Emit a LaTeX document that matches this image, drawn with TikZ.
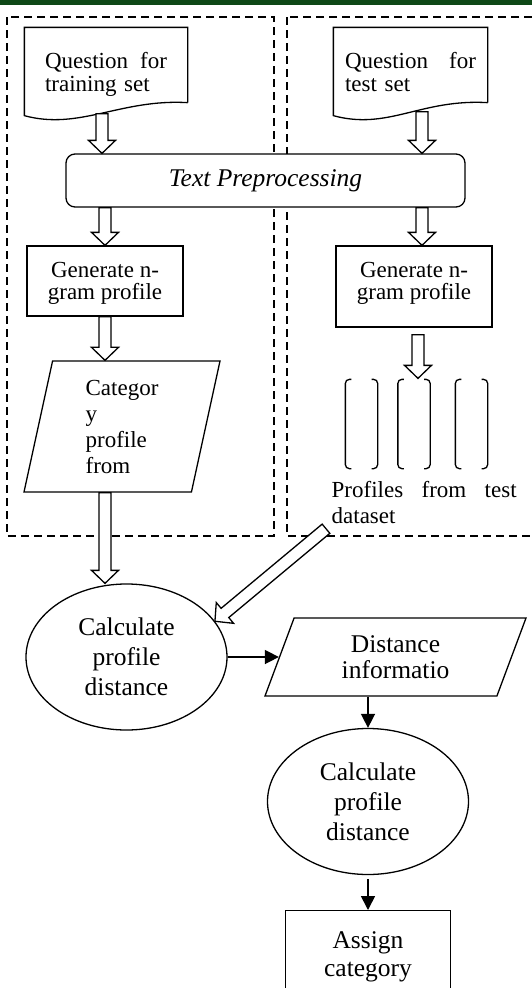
\documentclass[tikz,border=0pt]{standalone}
\usepackage{fontspec}
\setmainfont{Liberation Serif}
\usetikzlibrary{arrows.meta,calc,shapes.geometric}

\definecolor{bargreen}{RGB}{14,72,22}

\tikzset{
  small/.style={font=\fontsize{23}{23}\selectfont},
  big/.style={font=\fontsize{25.5}{30}\selectfont},
  doc/.style={small, align=left, inner ysep=0pt, text depth=10pt, minimum height=74pt},
  proc/.style={draw, align=center, inner sep=0pt, text depth=0pt},
  para/.style={draw, trapezium, trapezium stretches body, inner sep=0pt},
  calc/.style={draw, ellipse, big, align=center, inner sep=0pt, minimum width=201pt, minimum height=146pt},
  profbox/.style={inner sep=0pt, minimum width=31pt, minimum height=88pt},
  dashbox/.style={dash pattern=on 8pt off 5pt, line width=1.4pt},
  flow/.style={line width=1.6pt, -{Triangle[length=14pt,width=14pt]}},
  % wide outlined arrow between two points
  blockarrow/.style={to path={
    let \p1=(\tikztostart), \p2=(\tikztotarget), \n1={atan2(\y2-\y1,\x2-\x1)} in
    ($(\p1)+(\n1+90:6pt)$) -- ($(\p2)+(\n1:-13pt)+(\n1+90:6pt)$)
    -- ($(\p2)+(\n1:-13pt)+(\n1+90:13.5pt)$) -- (\p2)
    -- ($(\p2)+(\n1:-13pt)+(\n1-90:13.5pt)$)
    -- ($(\p2)+(\n1:-13pt)+(\n1-90:6pt)$)
    -- ($(\p1)+(\n1-90:6pt)$) -- cycle}},
}

\begin{document}
\begin{tikzpicture}[x=1pt, y=-1pt, line width=1.3pt]
\useasboundingbox (0,0) rectangle (532,988);
\fill[bargreen] (0,0) rectangle (532,5);

% the two dashed frames
\draw[dashbox] (7,17) rectangle (274,536);
\draw[dashbox] (287,17) rectangle (560,536);

% documents
\node[doc, text width=122pt, inner xsep=20pt] (qtrain) at (106,65) {Question\hfill for\\training set};
\node[doc, text width=131pt, inner xsep=11pt] (qtest) at (410.5,65) {Question\hfill for\\test set};
\foreach \d in {qtrain,qtest}
  \draw (\d.south east) -- (\d.north east) -- (\d.north west) -- ([yshift=-13pt]\d.south west)
    .. controls +(55,15) and +(-67,-4) .. (\d.south east);

\node[draw, fill=white, rounded corners=9pt, minimum width=399pt, minimum height=53pt, big] (tp) at (265.5,180.5) {\textit{Text Preprocessing}};

\node[proc, small, font=\fontsize{23}{22.5}\selectfont, minimum width=156pt, minimum height=70pt] (gen1) at (105,281) {Generate n-\\gram profile};
\node[proc, small, font=\fontsize{23}{22.5}\selectfont, minimum width=156pt, minimum height=81pt, text depth=11pt] (gen2) at (414,286.5) {Generate n-\\gram profile};

\node[para, trapezium left angle=73, trapezium right angle=107, minimum width=196pt, minimum height=131pt,
  align=left, font=\fontsize{23}{26}\selectfont] (catp) at (122,426.5) {Categor\\y\\profile\\from};

% test profiles
\node[profbox] (prof1) at (361.5,424) {};
\node[profbox] (prof2) at (414,424) {};
\node[profbox] (prof3) at (471.5,424) {};
\foreach \p in {prof1,prof2,prof3} {
  \draw[rounded corners=4pt] ([xshift=6pt]\p.north west) -- (\p.north west) -- (\p.south west) -- ([xshift=6pt]\p.south west);
  \draw[rounded corners=4pt] ([xshift=-6pt]\p.north east) -- (\p.north east) -- (\p.south east) -- ([xshift=-6pt]\p.south east);
}
\node[anchor=north west, inner sep=0pt, text width=185pt, align=left, font=\fontsize{23}{26}\selectfont] (profset) at (331,481) {Profiles\hfill from\hfill test\\dataset};

\node[calc] (calc1) at (126.5,657) {Calculate\\profile\\distance};
\node[para, trapezium left angle=56, trapezium right angle=124, minimum width=261pt, minimum height=78pt,
  align=center, font=\fontsize{25.5}{26}\selectfont] (dist) at (395.5,657) {Distance\\informatio};
\node[calc] (calc2) at (368,801.5) {Calculate\\profile\\distance};
\node[proc, font=\fontsize{25.5}{28}\selectfont, minimum width=165pt, minimum height=86pt, anchor=north] (assign) at (368,910) {Assign\\category};

% block arrows
\draw[fill=white] ($(qtrain.south)+(-4,11)$) to[blockarrow] ($(qtrain.south |- tp.north)+(-4,0)$);
\draw[fill=white] ($(qtest.south)+(11.5,9)$) to[blockarrow] ($(qtest.south |- tp.north)+(11.5,0)$);
\draw[fill=white] (gen1.north |- tp.south) to[blockarrow] (gen1.north);
\draw[fill=white] ($(gen2.north |- tp.south)+(8,0)$) to[blockarrow] ($(gen2.north)+(8,0)$);
\draw[fill=white] (gen1.south) to[blockarrow] (gen1.south |- catp.north);
\draw[fill=white] ($(gen2.south)+(4,7)$) to[blockarrow] ($(prof2.north)+(4,-1)$);
\draw[fill=white] (gen1.south |- catp.south) to[blockarrow] (gen1.south |- calc1.north);
\draw[fill=white] ($(profset.south west)+(-5,4)$) to[blockarrow] (calc1.22);

% plain arrows
\draw[flow] (calc1) -- (dist);
\draw[flow] (calc2.north |- dist.south) -- (calc2.north);
\draw[flow] ($(calc2.south)+(0,4)$) -- (assign.north);
\end{tikzpicture}
\end{document}
